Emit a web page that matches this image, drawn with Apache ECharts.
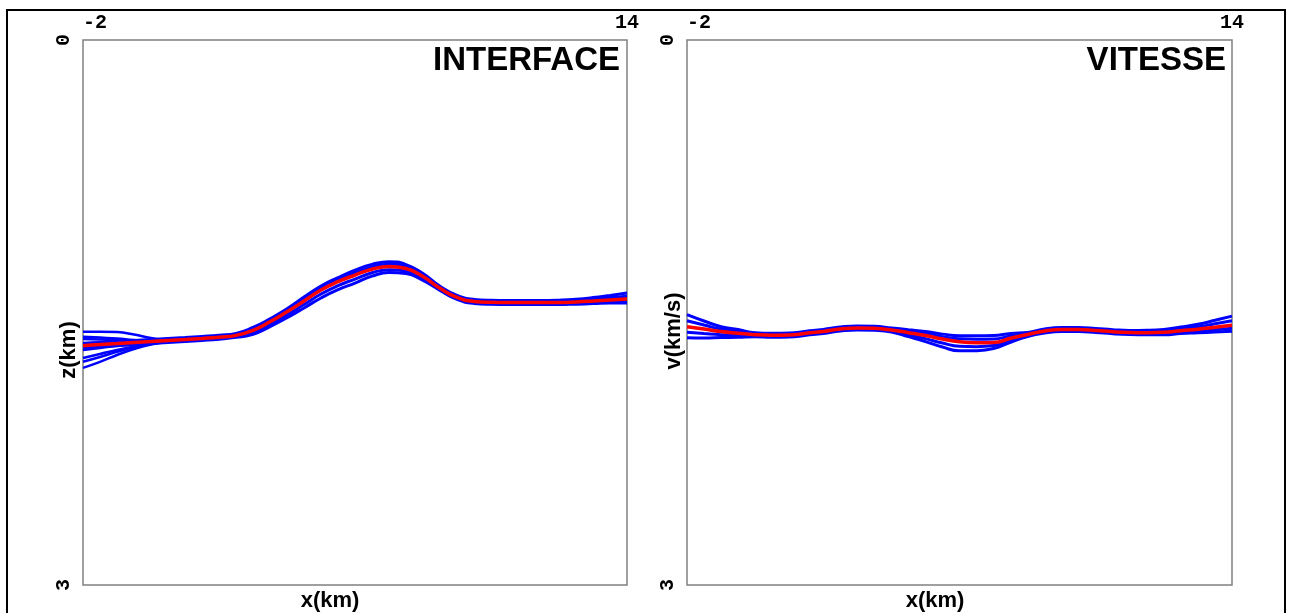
<!DOCTYPE html>
<html>
<head>
<meta charset="utf-8">
<script src="https://cdn.jsdelivr.net/npm/echarts@6/dist/echarts.min.js"></script>
<style>
html,body{margin:0;padding:0;background:#fff;}
#chart{width:1295px;height:613px;}
</style>
</head>
<body>
<div id="chart"></div>
<script>
// x positions (km), every 0.5 km
const xKm = [-2,-1.5,-1,-0.5,0,0.5,1,1.5,2,2.5,3,3.5,4,4.5,5,5.5,6,6.5,7,7.5,8,8.5,9,9.5,10,10.5,11,11.5,12,12.5,13,13.5,14];
const xTicks = ['-2','14'];
const yTicks = ['0','3'];

// ---------- INTERFACE (depth z, km) ----------
const interfaceRed = [1.683,1.676,1.671,1.665,1.660,1.654,1.649,1.643,1.636,1.626,1.598,1.551,1.496,1.437,1.376,1.330,1.294,1.262,1.247,1.258,1.302,1.367,1.417,1.439,1.444,1.445,1.445,1.445,1.445,1.442,1.437,1.431,1.426];
// ensemble band (blue), full length
const interfaceBlueTop   = [1.672,1.665,1.660,1.654,1.649,1.643,1.638,1.632,1.625,1.615,1.582,1.535,1.480,1.415,1.354,1.308,1.267,1.235,1.220,1.236,1.286,1.356,1.406,1.428,1.433,1.434,1.434,1.434,1.432,1.427,1.418,1.406,1.393];
const interfaceBlueUpper = [1.678,1.671,1.666,1.660,1.655,1.649,1.644,1.638,1.631,1.621,1.590,1.543,1.488,1.426,1.365,1.319,1.281,1.249,1.234,1.247,1.294,1.362,1.412,1.434,1.439,1.440,1.440,1.440,1.439,1.435,1.428,1.419,1.410];
const interfaceBlueLower = [1.689,1.682,1.677,1.671,1.666,1.660,1.655,1.649,1.642,1.632,1.609,1.565,1.513,1.456,1.398,1.352,1.316,1.281,1.264,1.272,1.313,1.373,1.423,1.445,1.450,1.451,1.451,1.451,1.451,1.448,1.444,1.439,1.437];
const interfaceBlueBottom= [1.694,1.687,1.682,1.676,1.671,1.665,1.660,1.654,1.647,1.637,1.620,1.578,1.529,1.475,1.420,1.374,1.338,1.300,1.280,1.285,1.324,1.378,1.428,1.450,1.455,1.456,1.456,1.456,1.456,1.454,1.451,1.448,1.448];
// ensemble fan at the left edge (x = -2 .. 1 km)
const interfaceFan = [
  [1.606,1.606,1.608,1.621,1.640,1.651,1.649],
  [1.633,1.638,1.643,1.652,1.657,1.654,1.649],
  [1.646,1.649,1.652,1.657,1.659,1.654,1.649],
  [1.668,1.665,1.664,1.663,1.660,1.654,1.649],
  [1.688,1.682,1.676,1.670,1.662,1.656,1.650],
  [1.706,1.695,1.684,1.676,1.666,1.657,1.650],
  [1.750,1.728,1.706,1.687,1.671,1.659,1.651],
  [1.771,1.745,1.717,1.692,1.673,1.660,1.651],
  [1.805,1.772,1.734,1.701,1.676,1.661,1.652]
];

// ---------- VITESSE (velocity v, km/s) ----------
const vitesseRed = [1.578,1.591,1.605,1.614,1.622,1.625,1.624,1.614,1.604,1.591,1.585,1.587,1.596,1.611,1.627,1.646,1.661,1.666,1.665,1.642,1.621,1.602,1.594,1.594,1.599,1.606,1.610,1.611,1.609,1.600,1.592,1.581,1.570];
const vitesseBlueTop    = [1.512,1.547,1.578,1.594,1.611,1.614,1.613,1.603,1.593,1.580,1.574,1.576,1.585,1.595,1.605,1.619,1.628,1.628,1.627,1.615,1.610,1.591,1.583,1.583,1.588,1.595,1.599,1.598,1.593,1.580,1.565,1.543,1.520];
const vitesseBlueUpper  = [1.545,1.569,1.592,1.604,1.617,1.620,1.619,1.609,1.599,1.586,1.580,1.582,1.591,1.603,1.616,1.633,1.645,1.647,1.646,1.629,1.616,1.597,1.589,1.589,1.594,1.601,1.605,1.605,1.601,1.590,1.579,1.562,1.545];
const vitesseBlueLower  = [1.609,1.616,1.622,1.625,1.628,1.631,1.630,1.620,1.610,1.597,1.591,1.593,1.602,1.622,1.644,1.668,1.686,1.688,1.682,1.653,1.627,1.608,1.600,1.600,1.605,1.612,1.616,1.617,1.616,1.608,1.602,1.595,1.587];
const vitesseBlueBottom = [1.639,1.641,1.638,1.636,1.633,1.636,1.635,1.625,1.615,1.602,1.596,1.598,1.607,1.633,1.660,1.690,1.711,1.710,1.698,1.664,1.632,1.613,1.605,1.605,1.610,1.617,1.621,1.622,1.622,1.616,1.612,1.608,1.603];

const titles = ['INTERFACE','VITESSE'];
const yNames = ['z(km)','v(km/s)'];
const xName = 'x(km)';

const chart = echarts.init(document.getElementById('chart'));
const pairs = arr => arr.map((v,i)=>[xKm[i], v]);
const monoFont = '"Liberation Mono", "DejaVu Sans Mono", monospace';
const sansFont = '"Liberation Sans", Arial, sans-serif';

function xAxisCfg(gi){
  return {
    gridIndex: gi, type:'value', position:'top', min:-2, max:14, interval:16,
    axisLine:{show:false}, axisTick:{show:false}, splitLine:{show:false},
    axisLabel:{
      show:true, margin:7, color:'#000', fontFamily:monoFont, fontWeight:'bold', fontSize:20,
      alignMinLabel:'left', alignMaxLabel:'center',
      formatter: v => v === -2 ? xTicks[0] : (v === 14 ? xTicks[1] : '')
    }
  };
}
function yAxisCfg(gi){
  return {
    gridIndex: gi, type:'value', inverse:true, min:0, max:3, interval:3,
    axisLine:{show:false}, axisTick:{show:false}, splitLine:{show:false},
    axisLabel:{
      show:true, rotate:90, margin:9, color:'#000', fontFamily:monoFont, fontWeight:'bold', fontSize:20,
      formatter: v => v === 0 ? yTicks[0] : (v === 3 ? yTicks[1] : '')
    }
  };
}

const series = [];
function addLine(gi, arr, color, width, z){
  series.push({type:'line', xAxisIndex:gi, yAxisIndex:gi, data:pairs(arr), smooth:0.5,
    showSymbol:false, symbol:'none', silent:true, animation:false, z:z,
    lineStyle:{color:color, width:width}});
}
const BLUE = '#0000ff', RED = '#ff0000';
interfaceFan.forEach(f => addLine(0, f, BLUE, 2.5, 2));
[interfaceBlueTop, interfaceBlueUpper, interfaceBlueLower, interfaceBlueBottom].forEach(b => addLine(0, b, BLUE, 3, 2));
addLine(0, interfaceRed, RED, 3.5, 5);
[vitesseBlueTop, vitesseBlueUpper, vitesseBlueLower, vitesseBlueBottom].forEach(b => addLine(1, b, BLUE, 3, 2));
addLine(1, vitesseRed, RED, 3.5, 5);

const option = {
  animation:false,
  backgroundColor:'#ffffff',
  grid:[
    {left:83, top:40, width:544, height:545, show:true, borderColor:'#808080', borderWidth:1.5, backgroundColor:'transparent'},
    {left:687, top:40, width:545, height:545, show:true, borderColor:'#808080', borderWidth:1.5, backgroundColor:'transparent'}
  ],
  xAxis:[xAxisCfg(0), xAxisCfg(1)],
  yAxis:[yAxisCfg(0), yAxisCfg(1)],
  series: series,
  graphic:[
    {type:'rect', shape:{x:7, y:10, width:1278, height:620}, style:{fill:'none', stroke:'#000', lineWidth:2}, silent:true, z:100},
    {type:'text', x:620, y:44, style:{text:titles[0], font:'bold 33px '+sansFont, fill:'#000', textAlign:'right', textVerticalAlign:'top'}, z:100},
    {type:'text', x:1226, y:44, style:{text:titles[1], font:'bold 33px '+sansFont, fill:'#000', textAlign:'right', textVerticalAlign:'top'}, z:100},
    {type:'text', x:69, y:350, rotation:Math.PI/2, style:{text:yNames[0], font:'bold 22px '+sansFont, fill:'#000', textAlign:'center', textVerticalAlign:'middle'}, z:100},
    {type:'text', x:674, y:331, rotation:Math.PI/2, style:{text:yNames[1], font:'bold 22px '+sansFont, fill:'#000', textAlign:'center', textVerticalAlign:'middle'}, z:100},
    {type:'text', x:330, y:601, style:{text:xName, font:'bold 22px '+sansFont, fill:'#000', textAlign:'center', textVerticalAlign:'middle'}, z:100},
    {type:'text', x:935, y:601, style:{text:xName, font:'bold 22px '+sansFont, fill:'#000', textAlign:'center', textVerticalAlign:'middle'}, z:100}
  ]
};
chart.setOption(option);
</script>
</body>
</html>
